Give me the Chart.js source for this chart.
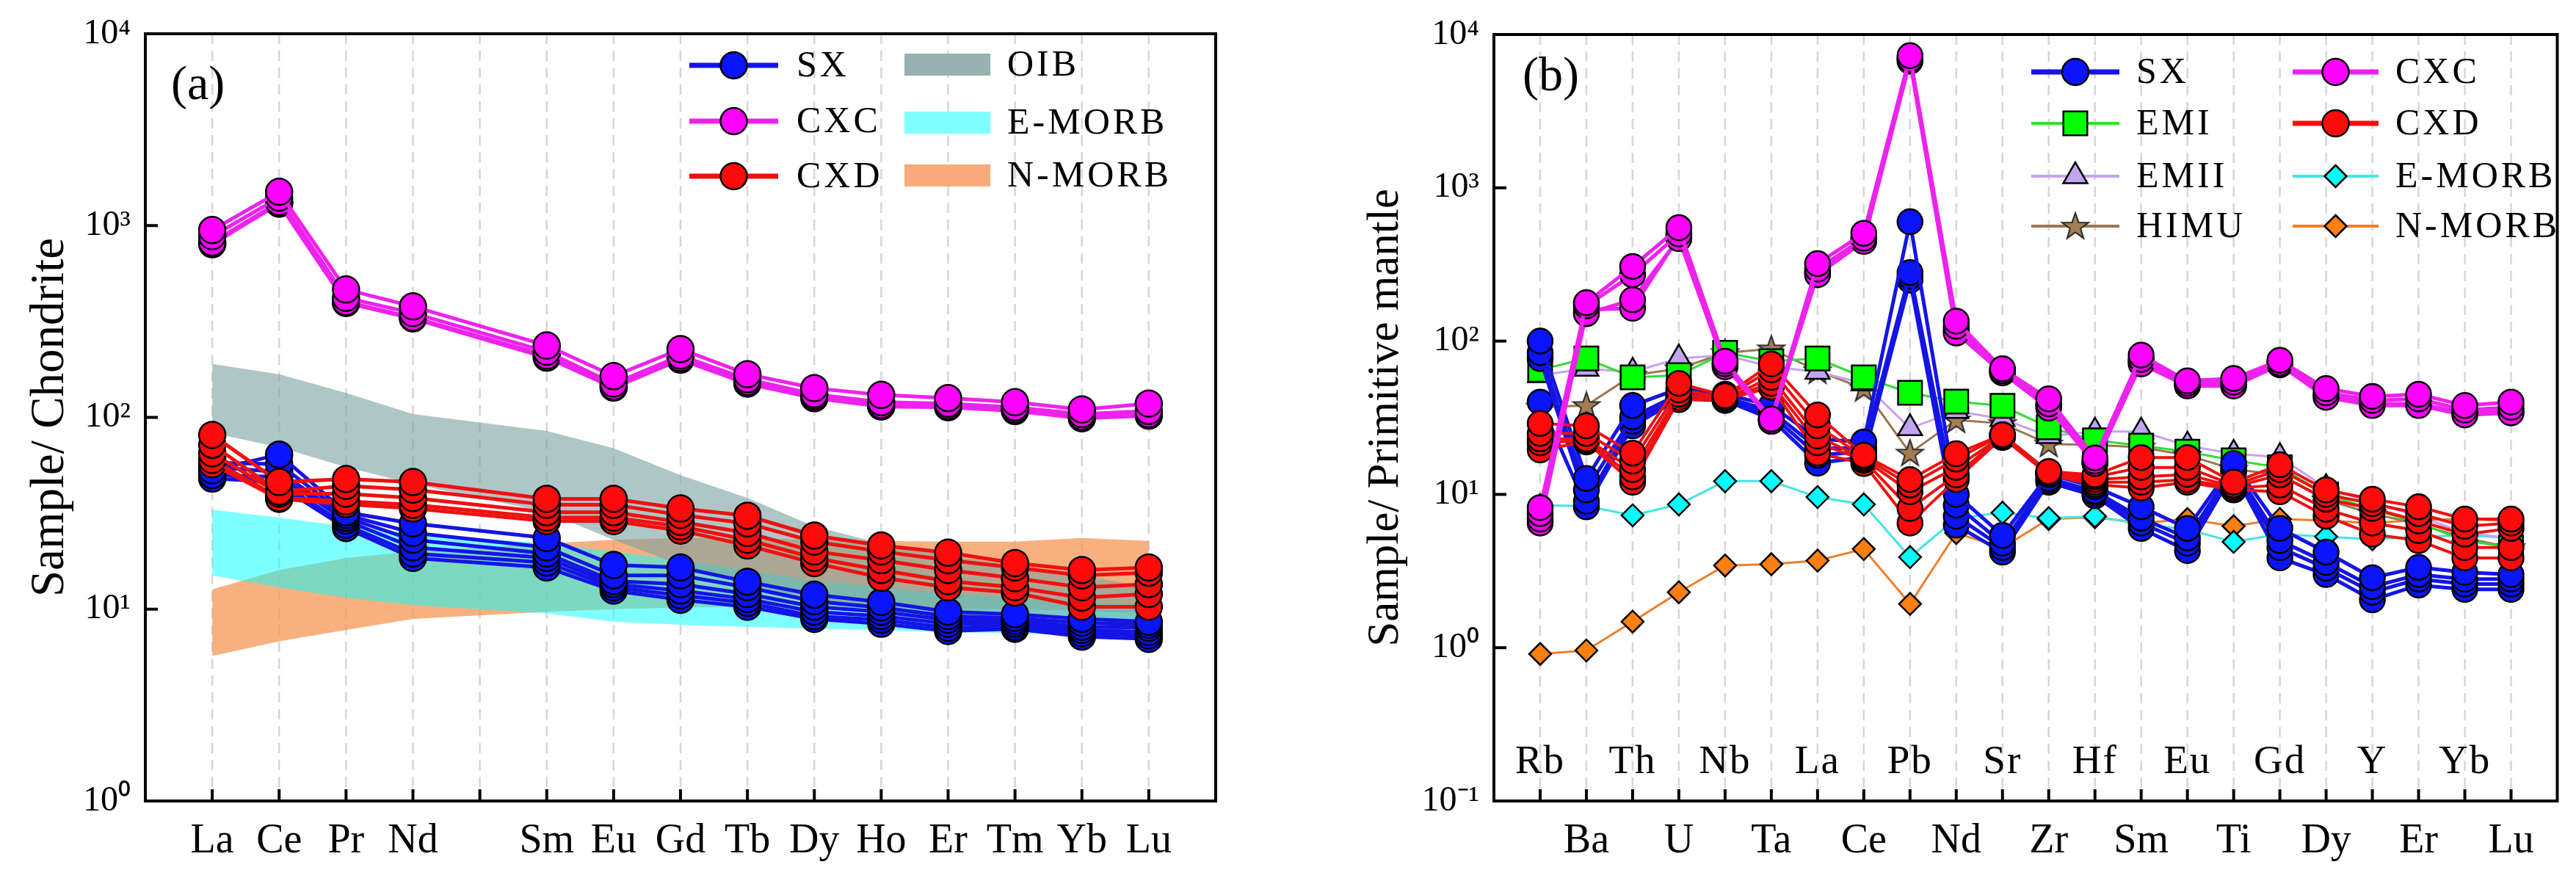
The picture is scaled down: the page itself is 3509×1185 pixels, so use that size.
<!DOCTYPE html>
<html><head><meta charset="utf-8">
<script src="https://cdn.jsdelivr.net/npm/chart.js"></script>
<style>
body{margin:0;background:#fff;}
#wrap{position:relative;width:3509px;height:1185px;background:#fff;}
.p{position:absolute;top:0;height:1185px;}
</style>
</head><body>
<div id="wrap">
 <div class="p" style="left:0;width:1754px"><canvas id="ca"></canvas></div>
 <div class="p" style="left:1754px;width:1755px"><canvas id="cb"></canvas></div>
</div>
<script>
// ---------- Panel (a): chondrite-normalised REE ----------
const reeLabels = ['La','Ce','Pr','Nd','','Sm','Eu','Gd','Tb','Dy','Ho','Er','Tm','Yb','Lu'];
const reeSX = [
 [53, 64, 32, 28, null, 23.5, 17, 16.5, 13.9, 11.9, 10.9, 9.7, 9.4, 8.9, 8.6],
 [58, 57, 31, 25, null, 21, 15, 15, 13, 11, 10.2, 9.2, 9.0, 8.5, 8.3],
 [55, 52, 30, 23, null, 19.5, 14, 13.5, 12, 10.3, 9.7, 8.8, 8.7, 8.1, 8.0],
 [50, 49, 29, 21, null, 18.5, 13.5, 12.5, 11.3, 9.7, 9.2, 8.4, 8.4, 7.8, 7.6],
 [48, 46, 27.5, 19.5, null, 17.5, 13, 11.8, 10.8, 9.2, 8.8, 8.0, 8.1, 7.5, 7.3],
 [52, 44, 26.5, 18.5, null, 16.5, 12.5, 11.2, 10.3, 8.9, 8.4, 7.7, 7.9, 7.2, 7.0]
];
const reeCXD = [
 [81, 46, 47.7, 46, null, 37.6, 37.6, 33.5, 30.7, 24.2, 21.5, 19.7, 17.4, 16, 16.5],
 [72, 41, 44, 42, null, 35, 35, 31, 28, 22.5, 20, 18, 16.5, 15, 15.5],
 [65, 40, 40, 38, null, 32, 32, 28.5, 25, 20, 18, 16, 14.5, 13, 13.5],
 [60, 38, 36.5, 35, null, 30, 30, 27, 23, 18.5, 16, 14, 13, 11.5, 12],
 [57, 37.6, 35.3, 33.5, null, 28.8, 28.8, 25.7, 21.5, 17.4, 14.6, 13, 12.2, 10.3, 10.3]
];
const reeCXC = [
 [948, 1500, 464, 379, null, 237, 164, 227, 168, 142, 131, 126, 120, 110, 118],
 [880, 1400, 420, 350, null, 220, 150, 210, 158, 132, 120, 118, 113, 104, 108],
 [817, 1327, 400, 332, null, 210, 145, 204, 153, 129, 116, 115, 110, 101, 104],
 [800, 1300, 395, 328, null, 205, 143, 200, 150, 126, 114, 113, 108, 99, 102]
];
const oibHigh   = [190, 168, 134, 104, null, 85, 69, 50, 38, 27, 22, 19, 17, 15, 13];
const oibLow    = [83, 70, 55, 45, null, 32, 23, 17, 13.5, 11, 9.5, 8.5, 8, 7.4, 6.8];
const emorbHigh = [33, 30, 27, 25, null, 22, 20, 18, 16, 14, 13, 12, 11.5, 11, 10.5];
const emorbLow  = [15, 13, 11.5, 10.5, null, 9.5, 8.6, 8.3, 8.1, 7.9, 7.8, 7.6, 7.5, 7.3, 7.1];
const nmorbHigh = [12.7, 16, 18.5, 20, null, 22, 23, 23.5, 23.5, 23, 22.7, 22.5, 22.5, 23.5, 22.7];
const nmorbLow  = [5.7, 6.8, 7.8, 8.9, null, 9.7, 10, 10.2, 10.3, 10.3, 10.2, 10.1, 10, 9.8, 9.5];
const yTicksA = [1, 10, 100, 1000, 10000];

// ---------- Panel (b): primitive-mantle-normalised trace elements ----------
const traceLabels = ['Rb','Ba','Th','U','Nb','Ta','La','Ce','Pb','Nd','Sr','Zr','Hf','Sm','Eu','Ti','Gd','Dy','Y','Er','Yb','Lu'];
const trSX = [
 [100, 12.7, 38, 49, 45, 38, 23, 22, 600, 10, 5.4, 13.5, 11.2, 8.3, 6.0, 15.9, 6.0, 4.2, 2.86, 3.34, 3.1, 3.0],
 [84, 10.7, 32, 45, 43, 35, 20, 20, 280, 8.5, 4.8, 12.7, 10.5, 7.0, 5.2, 15, 5.0, 3.6, 2.5, 3.0, 2.8, 2.8],
 [77, 9.0, 30, 43, 42, 33, 18, 19, 265, 7.2, 4.5, 12.3, 10.2, 6.5, 4.8, 14.5, 4.5, 3.3, 2.3, 2.8, 2.6, 2.6],
 [40, 8.3, 28, 42, 41, 31, 16, 17.5, 250, 6.3, 4.2, 12, 9.8, 6.0, 4.3, 14, 3.85, 3.0, 2.05, 2.56, 2.4, 2.4]
];
const trCXD = [
 [29, 28, 18.6, 53, 44, 71, 33, 18, 12.5, 18.4, 24.5, 14.1, 13.4, 17.4, 17.4, 12, 15.6, 10.7, 9.3, 8.3, 6.9, 6.9],
 [25, 25, 16.5, 48, 43, 65, 28, 17.5, 11.5, 17, 24.5, 14, 13, 15, 15, 11.5, 14.5, 10, 8.7, 7.5, 6.2, 6.5],
 [23, 23, 14.5, 45, 42, 58, 24, 17, 10.4, 15, 24, 13.8, 12.5, 13, 13.5, 11.2, 13.4, 9.3, 8.1, 6.7, 5.5, 6.0],
 [21.7, 22.5, 13, 43, 42, 53, 21.7, 16.7, 8.1, 13.4, 24, 13.6, 12, 12, 12.5, 11, 11.5, 8, 6.5, 5.8, 4.5, 4.5],
 [19.5, 22, 12, 41.5, 41.5, 50, 18.6, 15.9, 6.5, 12.5, 23.5, 13.4, 11.6, 11, 12, 10.7, 10.4, 7.2, 5.5, 5.0, 3.85, 3.85]
];
const trCXC = [
 [8.2, 178, 307, 550, 74, 31, 320, 505, 7280, 135, 66, 42, 17.3, 81, 55, 57, 75, 49, 43.6, 45, 38, 40],
 [7.5, 170, 271, 500, 71, 30, 295, 470, 6900, 125, 64, 39, 16.5, 76, 53, 54, 72, 46, 41, 42, 35.5, 37],
 [6.9, 151, 186, 466, 68, 31, 271, 447, 6700, 113, 62, 36.6, 15.9, 71, 51, 51, 70, 43, 38, 38, 33, 34],
 [6.5, 160, 164, 480, 70, 30, 280, 455, 7000, 118, 63, 38, 16, 74, 52, 52, 71, 44, 39, 39, 34, 35]
];
const trEMI   = [65, 77, 58, 60, 84, 74, 77, 58, 46, 40.3, 37.8, 27.4, 22.5, 20.8, 19, 16.7, 15, 10, 8, 6.5, 5, 4.5];
const trEMII  = [60, 66, 63, 77, 81, 68, 63, 53, 27, 35, 31, 24, 25.7, 25.7, 20.8, 18.4, 17.5, 11, 8.9, 7.2, 5.6, 5.2];
const trHIMU  = [37, 38, 60, 66, 84, 89, 64, 49, 18.6, 30.6, 29, 21.3, 21, 20.3, 18, 14.6, 13.4, 9.2, 7.5, 6.4, 5.2, 4.5];
const trEMORB = [8.5, 8.4, 7.3, 8.6, 12.2, 12.2, 9.6, 8.6, 3.9, 7.0, 7.6, 7.0, 7.2, 6.4, 5.9, 4.9, 5.5, 5.3, 5.1, 5.3, 5.4, 5.2];
const trNMORB = [0.91, 0.96, 1.48, 2.3, 3.44, 3.5, 3.7, 4.4, 1.93, 5.6, 4.5, 6.9, 7.1, 6.5, 6.9, 6.2, 6.9, 6.75, 6.5, 6.8, 6.9, 6.7];
const yTicksB = [0.1, 1, 10, 100, 1000, 10000];

// ---------- helpers ----------
const SERIF = '"Liberation Serif","Times New Roman",serif';
const SUP = {'-':'\u207B','0':'\u2070','1':'\u00B9','2':'\u00B2','3':'\u00B3','4':'\u2074'};
const expLabel = v => '10' + String(Math.round(Math.log10(v))).split('').map(c => SUP[c]).join('');

function pts(vals){ const o=[]; vals.forEach((v,i)=>{ if(v!=null) o.push({x:i,y:v}); }); return o; }

const starImg = (() => {
  const c = document.createElement('canvas'); c.width = c.height = 44;
  const g = c.getContext('2d'); g.beginPath();
  for (let k = 0; k < 10; k++) {
    const r = k % 2 ? 7.5 : 19, a = -Math.PI/2 + k*Math.PI/5;
    g.lineTo(22 + r*Math.cos(a), 23 + r*Math.sin(a));
  }
  g.closePath(); g.fillStyle = '#a37d55'; g.fill();
  g.lineWidth = 2; g.strokeStyle = '#2a2a2a'; g.stroke();
  return c;
})();

function lineDS(vals, color, width, m, order){
  return { data: pts(vals), borderColor: color, borderWidth: width, tension: 0, fill: false,
    pointStyle: m.style, pointRadius: m.r, pointHoverRadius: m.r, pointBackgroundColor: m.fill,
    pointBorderColor: '#000', pointBorderWidth: m.bw == null ? 2.5 : m.bw, order, clip: false };
}
function bandDS(hi, lo, color, order){
  return [
    { data: pts(hi), borderWidth: 0, pointRadius: 0, pointHoverRadius: 0, fill: '+1', backgroundColor: color, tension: 0, order },
    { data: pts(lo), borderWidth: 0, pointRadius: 0, pointHoverRadius: 0, fill: false, tension: 0, order }
  ];
}

function drawMarker(ctx, style, x, y, r, fill){
  ctx.save();
  if (style === 'star') { ctx.drawImage(starImg, x - starImg.width/2, y - starImg.height/2); ctx.restore(); return; }
  ctx.beginPath();
  if (style === 'circle') ctx.arc(x, y, r, 0, Math.PI*2);
  else if (style === 'rect') { const s = r*Math.SQRT1_2; ctx.rect(x-s, y-s, 2*s, 2*s); }
  else if (style === 'rectRot') { ctx.moveTo(x, y-r); ctx.lineTo(x+r, y); ctx.lineTo(x, y+r); ctx.lineTo(x-r, y); ctx.closePath(); }
  else if (style === 'triangle') { const h = r*1.5, s = r*Math.sqrt(3); ctx.moveTo(x, y-r); ctx.lineTo(x+s/2, y-r+h); ctx.lineTo(x-s/2, y-r+h); ctx.closePath(); }
  ctx.fillStyle = fill; ctx.fill(); ctx.lineWidth = 2.5; ctx.strokeStyle = '#000'; ctx.stroke();
  ctx.restore();
}

function makeDecor(cfg){
  return {
    id: 'decor',
    beforeDatasetsDraw(chart){
      const {ctx, chartArea: a, scales: {x}} = chart;
      ctx.save(); ctx.strokeStyle = '#d6d6d6'; ctx.lineWidth = 2.5; ctx.setLineDash([14, 9]);
      cfg.labels.forEach((_, i) => { const px = x.getPixelForValue(i); ctx.beginPath(); ctx.moveTo(px, a.top); ctx.lineTo(px, a.bottom); ctx.stroke(); });
      ctx.restore();
    },
    afterDatasetsDraw(chart){
      const {ctx, chartArea: a, scales: {x, y}} = chart;
      ctx.save();
      ctx.strokeStyle = '#000'; ctx.lineWidth = 4; ctx.setLineDash([]);
      ctx.strokeRect(a.left, a.top, a.width, a.height);
      cfg.labels.forEach((_, i) => { const px = x.getPixelForValue(i); ctx.beginPath(); ctx.moveTo(px, a.bottom); ctx.lineTo(px, a.bottom - 16); ctx.stroke(); });
      cfg.yTicks.forEach(v => { const py = y.getPixelForValue(v); ctx.beginPath(); ctx.moveTo(a.left, py); ctx.lineTo(a.left + 17, py); ctx.stroke(); });
      if (cfg.innerLabels) {
        ctx.fillStyle = '#000'; ctx.font = '55px ' + SERIF; ctx.textAlign = 'center'; ctx.textBaseline = 'alphabetic';
        try { ctx.letterSpacing = '2px'; } catch(e) {}
        cfg.labels.forEach((t, i) => { if (i % 2 === 0) ctx.fillText(t, x.getPixelForValue(i), a.bottom - 38); });
      }
      try { ctx.letterSpacing = '0px'; } catch(e) {}
      ctx.fillStyle = '#000'; ctx.font = '66px ' + SERIF; ctx.textAlign = 'left'; ctx.textBaseline = 'middle';
      ctx.fillText(cfg.tag, cfg.tagX, cfg.tagY);
      ctx.font = '50px ' + SERIF; ctx.textBaseline = 'middle'; ctx.textAlign = 'left';
      try { ctx.letterSpacing = '4px'; } catch(e) {}
      cfg.legend.forEach(e => {
        if (e.rect) {
          ctx.fillStyle = e.color; ctx.fillRect(e.x1, e.y - 15, e.x2 - e.x1, 30);
        } else {
          ctx.strokeStyle = e.color; ctx.lineWidth = e.lw; ctx.beginPath(); ctx.moveTo(e.x1, e.y); ctx.lineTo(e.x2, e.y); ctx.stroke();
          drawMarker(ctx, e.style, (e.x1 + e.x2)/2, e.y, e.r, e.fill);
        }
        ctx.fillStyle = '#000'; ctx.fillText(e.text, e.tx, e.y + 2);
      });
      ctx.restore();
    }
  };
}

function baseOptions(o){
  return {
    responsive: true, maintainAspectRatio: false, animation: false, devicePixelRatio: 1,
    layout: { padding: o.padding },
    plugins: { legend: { display: false }, tooltip: { enabled: false } },
    scales: {
      x: { type: 'linear', min: -1, max: o.labels.length,
        grid: { display: false }, border: { display: false },
        afterBuildTicks: s => { s.ticks = o.labels.map((_, i) => ({ value: i })); },
        afterFit: s => { s.height = 94; },
        ticks: { autoSkip: false, maxRotation: 0, padding: 14, color: '#000',
          font: { family: SERIF, size: 56 }, callback: o.xCallback } },
      y: { type: 'logarithmic', min: o.yTicks[0], max: o.yTicks[o.yTicks.length-1],
        grid: { display: false }, border: { display: false },
        afterBuildTicks: s => { s.ticks = o.yTicks.map(v => ({ value: v, major: true })); },
        afterFit: s => { s.width = o.yWidth; },
        ticks: { padding: o.yPad, color: '#000', font: { family: SERIF, size: 48 }, callback: v => expLabel(v) },
        title: { display: true, text: o.title, color: '#000', font: { family: SERIF, size: o.titleSize }, padding: { top: o.titlePad, bottom: 0 } } }
    }
  };
}

// ---------- build panel (a) ----------
const dsA = [];
reeCXC.forEach(v => dsA.push(lineDS(v, '#ee22ee', 5, {style:'circle', r:18, fill:'#ff00ff'}, 1)));
reeCXD.forEach(v => dsA.push(lineDS(v, '#f01010', 5, {style:'circle', r:18, fill:'#ff0a0a'}, 5)));
reeSX.forEach(v => dsA.push(lineDS(v, '#1414e6', 5, {style:'circle', r:18, fill:'#0a14ff'}, 10)));
dsA.push(...bandDS(oibHigh, oibLow, 'rgba(120,160,160,0.6)', 50));
dsA.push(...bandDS(emorbHigh, emorbLow, 'rgba(0,255,255,0.5)', 51));
dsA.push(...bandDS(nmorbHigh, nmorbLow, 'rgba(245,150,85,0.75)', 52));

new Chart(document.getElementById('ca'), {
  type: 'line',
  data: { datasets: dsA },
  options: baseOptions({ labels: reeLabels, yTicks: yTicksA, padding: { top: 46, right: 98, left: 0, bottom: 0 },
    yWidth: 198, yPad: 12, title: 'Sample/ Chondrite', titleSize: 65, titlePad: 30,
    xCallback: v => reeLabels[Math.round(v)] }),
  plugins: [makeDecor({ labels: reeLabels, yTicks: yTicksA, tag: '(a)', tagX: 233, tagY: 118,
    legend: [
      { x1: 939, x2: 1060, y: 89, color: '#1414e6', lw: 7, style: 'circle', r: 18, fill: '#0a14ff', text: 'SX', tx: 1085 },
      { x1: 939, x2: 1060, y: 165, color: '#ee22ee', lw: 7, style: 'circle', r: 18, fill: '#ff00ff', text: 'CXC', tx: 1085 },
      { x1: 939, x2: 1060, y: 240, color: '#f01010', lw: 7, style: 'circle', r: 18, fill: '#ff0a0a', text: 'CXD', tx: 1085 },
      { rect: true, x1: 1232, x2: 1349, y: 88, color: '#98b2b2', text: 'OIB', tx: 1372 },
      { rect: true, x1: 1232, x2: 1349, y: 167, color: '#80ffff', text: 'E-MORB', tx: 1372 },
      { rect: true, x1: 1232, x2: 1349, y: 239, color: '#f8aa7a', text: 'N-MORB', tx: 1372 }
    ] })]
});

// ---------- build panel (b) ----------
const dsB = [];
trCXC.forEach(v => dsB.push(lineDS(v, '#ee22ee', 5, {style:'circle', r:17, fill:'#ff00ff'}, 1)));
trCXD.forEach(v => dsB.push(lineDS(v, '#f01010', 4, {style:'circle', r:17, fill:'#ff0a0a'}, 5)));
trSX.forEach(v => dsB.push(lineDS(v, '#1414e6', 5, {style:'circle', r:17, fill:'#0a14ff'}, 10)));
dsB.push(lineDS(trEMI, '#33dd33', 3, {style:'rect', r:23, fill:'#00ff00'}, 30));
dsB.push(lineDS(trEMII, '#c7a2f2', 3, {style:'triangle', r:19, fill:'#c2a4ee'}, 31));
dsB.push(lineDS(trHIMU, '#9b7653', 3, {style:starImg, r:18, fill:'#a37d55', bw:0}, 32));
dsB.push(lineDS(trEMORB, '#40e6e6', 3, {style:'rectRot', r:15, fill:'#00ffff'}, 39));
dsB.push(lineDS(trNMORB, '#f07d2a', 3, {style:'rectRot', r:15, fill:'#ff7f10'}, 40));

new Chart(document.getElementById('cb'), {
  type: 'line',
  data: { datasets: dsB },
  options: baseOptions({ labels: traceLabels, yTicks: yTicksB, padding: { top: 47, right: 16, left: 0, bottom: 0 },
    yWidth: 281, yPad: 12, title: 'Sample/ Primitive mantle', titleSize: 61, titlePad: 97,
    xCallback: v => { const i = Math.round(v); return i % 2 === 1 ? traceLabels[i] : ''; } }),
  plugins: [makeDecor({ labels: traceLabels, yTicks: yTicksB, innerLabels: true, tag: '(b)', tagX: 320, tagY: 106,
    legend: [
      { x1: 1013, x2: 1133, y: 98, color: '#1414e6', lw: 7, style: 'circle', r: 18, fill: '#0a14ff', text: 'SX', tx: 1156 },
      { x1: 1013, x2: 1133, y: 168, color: '#33dd33', lw: 4, style: 'rect', r: 23, fill: '#00ff00', text: 'EMI', tx: 1156 },
      { x1: 1013, x2: 1133, y: 240, color: '#c7a2f2', lw: 4, style: 'triangle', r: 19, fill: '#c2a4ee', text: 'EMII', tx: 1156 },
      { x1: 1013, x2: 1133, y: 308, color: '#9b7653', lw: 4, style: 'star', r: 18, fill: '#a37d55', text: 'HIMU', tx: 1156 },
      { x1: 1369, x2: 1486, y: 98, color: '#ee22ee', lw: 7, style: 'circle', r: 18, fill: '#ff00ff', text: 'CXC', tx: 1509 },
      { x1: 1369, x2: 1486, y: 168, color: '#f01010', lw: 7, style: 'circle', r: 18, fill: '#ff0a0a', text: 'CXD', tx: 1509 },
      { x1: 1369, x2: 1486, y: 240, color: '#40e6e6', lw: 4, style: 'rectRot', r: 15, fill: '#00ffff', text: 'E-MORB', tx: 1509 },
      { x1: 1369, x2: 1486, y: 308, color: '#f07d2a', lw: 4, style: 'rectRot', r: 15, fill: '#ff7f10', text: 'N-MORB', tx: 1509 }
    ] })]
});
</script>
</body></html>
